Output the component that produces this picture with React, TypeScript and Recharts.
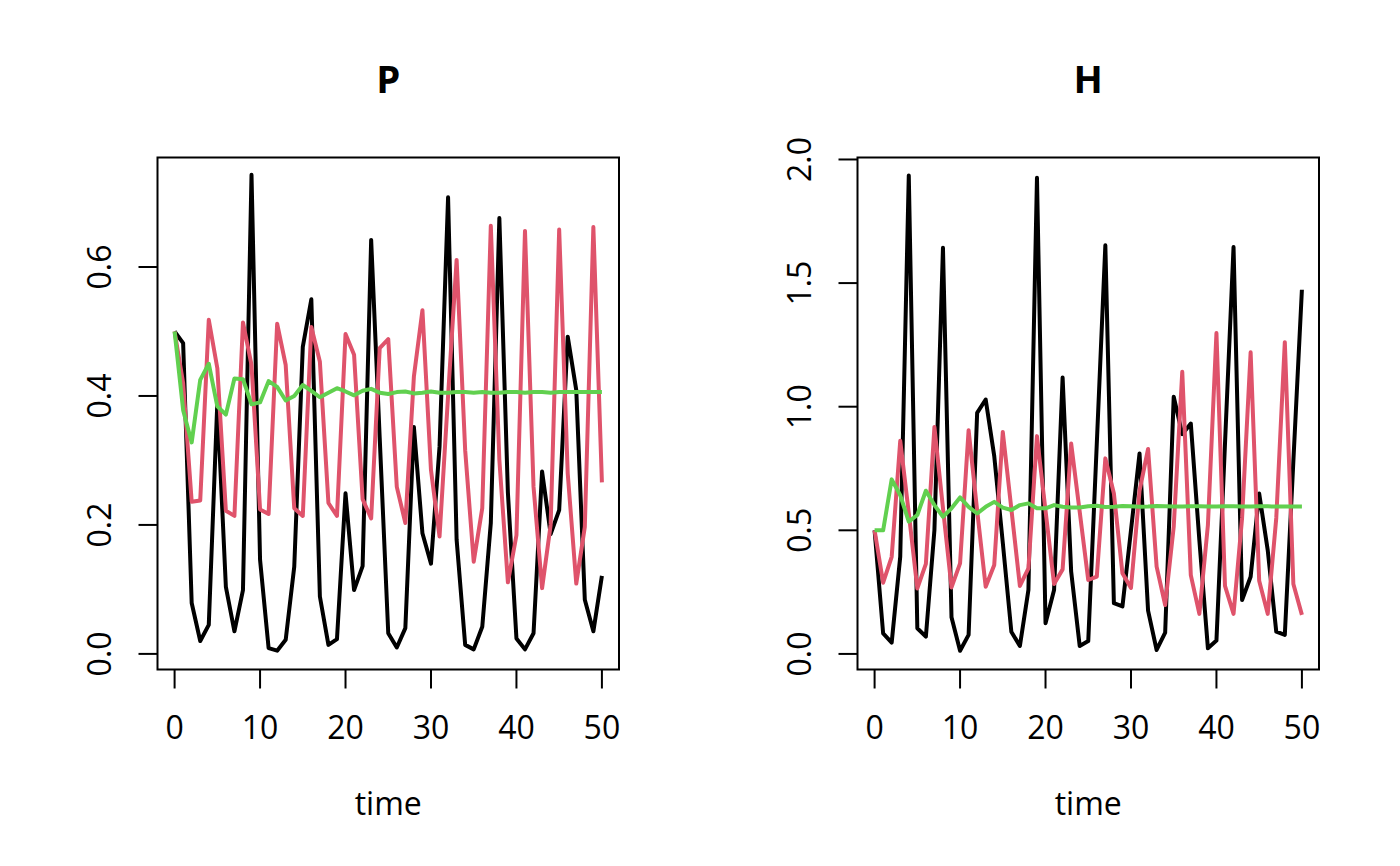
import { Line, LineChart, ReferenceArea, XAxis, YAxis } from 'recharts';

const FONT = '"Open Sans", "Noto Sans", sans-serif';

const time = [
  0, 1, 2, 3, 4, 5, 6, 7, 8, 9, 10, 11, 12, 13, 14, 15, 16, 17, 18, 19, 20, 21, 22, 23, 24, 25,
  26, 27, 28, 29, 30, 31, 32, 33, 34, 35, 36, 37, 38, 39, 40, 41, 42, 43, 44, 45, 46, 47, 48, 49, 50,
];
const timeTicks = [0, 10, 20, 30, 40, 50];

// P panel
const pBlack = [
  0.5, 0.482, 0.079, 0.02, 0.045, 0.39, 0.104, 0.035, 0.099, 0.743, 0.146, 0.009, 0.005, 0.022,
  0.135, 0.476, 0.55, 0.089, 0.014, 0.023, 0.249, 0.099, 0.136, 0.642, 0.335, 0.032, 0.01, 0.04,
  0.352, 0.187, 0.14, 0.321, 0.708, 0.177, 0.014, 0.007, 0.042, 0.203, 0.676, 0.25, 0.024, 0.007,
  0.032, 0.283, 0.186, 0.223, 0.492, 0.409, 0.084, 0.035, 0.121,
];
const pRed = [
  0.5, 0.42, 0.236, 0.238, 0.518, 0.443, 0.222, 0.214, 0.514, 0.448, 0.224, 0.217, 0.512, 0.448,
  0.226, 0.214, 0.507, 0.453, 0.234, 0.214, 0.496, 0.464, 0.24, 0.21, 0.474, 0.488, 0.259, 0.203,
  0.43, 0.533, 0.285, 0.182, 0.4, 0.611, 0.316, 0.143, 0.226, 0.664, 0.301, 0.111, 0.184, 0.656,
  0.259, 0.102, 0.2, 0.658, 0.28, 0.109, 0.197, 0.662, 0.266,
];
const pGreen = [
  0.5, 0.378, 0.328, 0.425, 0.45, 0.384, 0.371, 0.427, 0.426, 0.387, 0.39, 0.423, 0.414, 0.393,
  0.4, 0.417, 0.408, 0.398, 0.405, 0.412, 0.407, 0.401, 0.408, 0.411, 0.405, 0.403, 0.406, 0.407,
  0.404, 0.405, 0.407, 0.405, 0.405, 0.406, 0.406, 0.405, 0.406, 0.405, 0.405, 0.406, 0.406, 0.405,
  0.406, 0.406, 0.405, 0.406, 0.406, 0.406, 0.406, 0.406, 0.406,
];
const pTicks = [0, 0.2, 0.4, 0.6];
const pTickLabels = ['0.0', '0.2', '0.4', '0.6'];

// H panel
const hBlack = [
  0.5, 0.083, 0.046, 0.393, 1.935, 0.104, 0.07, 0.501, 1.643, 0.148, 0.013, 0.077, 0.975, 1.029,
  0.8, 0.45, 0.09, 0.032, 0.259, 1.926, 0.124, 0.259, 1.118, 0.333, 0.032, 0.052, 0.851, 1.653,
  0.205, 0.192, 0.5, 0.811, 0.175, 0.016, 0.086, 1.04, 0.889, 0.932, 0.46, 0.023, 0.054, 0.85,
  1.646, 0.218, 0.312, 0.649, 0.42, 0.09, 0.077, 0.78, 1.473,
];
const hRed = [
  0.5, 0.288, 0.393, 0.862, 0.57, 0.265, 0.364, 0.918, 0.59, 0.269, 0.366, 0.905, 0.58, 0.272,
  0.36, 0.898, 0.587, 0.275, 0.346, 0.881, 0.58, 0.283, 0.342, 0.851, 0.575, 0.299, 0.313, 0.791,
  0.649, 0.326, 0.267, 0.66, 0.829, 0.353, 0.198, 0.514, 1.141, 0.319, 0.162, 0.521, 1.298, 0.275,
  0.162, 0.55, 1.22, 0.296, 0.162, 0.55, 1.261, 0.283, 0.158,
];
const hGreen = [
  0.5, 0.5, 0.706, 0.642, 0.535, 0.562, 0.66, 0.602, 0.555, 0.589, 0.633, 0.595, 0.568, 0.595,
  0.615, 0.592, 0.582, 0.602, 0.609, 0.589, 0.589, 0.602, 0.595, 0.592, 0.592, 0.597, 0.599, 0.594,
  0.595, 0.598, 0.597, 0.595, 0.596, 0.598, 0.597, 0.596, 0.596, 0.597, 0.597, 0.596, 0.596, 0.597,
  0.597, 0.596, 0.596, 0.597, 0.597, 0.596, 0.596, 0.596, 0.596,
];
const hTicks = [0, 0.5, 1, 1.5, 2];
const hTickLabels = ['0.0', '0.5', '1.0', '1.5', '2.0'];

const COLORS = { black: '#000000', red: '#DF536B', green: '#61D04F' };

// plot box (the R plot region) inside each 700px-wide panel
const PANEL_W = 700;
const PANEL_H = 866;
const BOX_LEFT = 157.5;
const BOX_RIGHT = 619;
const BOX_TOP = 157.5;
const BOX_BOTTOM = 669.5;
const Y_AXIS_W = 100;
const X_AXIS_H = 100;
const TICK_LEN = 19;

interface PanelProps {
  title: string;
  black: number[];
  red: number[];
  green: number[];
  yDomain: [number, number];
  yTicks: number[];
  yTickLabels: string[];
}

function XTick({ x, y, payload }: any) {
  return (
    <text x={x} y={y} textAnchor="middle" fontFamily={FONT} fontSize={32} fill="#000">
      {payload.value}
    </text>
  );
}

function makeYTick(ticks: number[], labels: string[]) {
  return function YTick({ x, y, payload }: any) {
    const i = ticks.indexOf(payload.value);
    return (
      <text
        x={x}
        y={y}
        transform={`rotate(-90 ${x} ${y})`}
        textAnchor="middle"
        fontFamily={FONT}
        fontSize={32}
        fill="#000"
      >
        {i >= 0 ? labels[i] : payload.value}
      </text>
    );
  };
}

function Panel({ title, black, red, green, yDomain, yTicks, yTickLabels }: PanelProps) {
  const data = time.map((t, i) => ({ t, black: black[i], red: red[i], green: green[i] }));
  const YTick = makeYTick(yTicks, yTickLabels);

  return (
    <div style={{ position: 'relative', width: PANEL_W, height: PANEL_H }}>
      <LineChart
        width={PANEL_W}
        height={PANEL_H}
        data={data}
        margin={{
          top: BOX_TOP,
          right: PANEL_W - BOX_RIGHT,
          bottom: PANEL_H - BOX_BOTTOM - X_AXIS_H,
          left: BOX_LEFT - Y_AXIS_W,
        }}
      >
        <XAxis
          dataKey="t"
          type="number"
          domain={[-2, 52]}
          allowDataOverflow
          ticks={timeTicks}
          height={X_AXIS_H}
          axisLine={false}
          tickLine={{ stroke: '#000', strokeWidth: 2 }}
          tickSize={TICK_LEN}
          tickMargin={50.5}
          tick={<XTick />}
          interval={0}
        />
        <YAxis
          type="number"
          domain={yDomain}
          allowDataOverflow
          ticks={yTicks}
          width={Y_AXIS_W}
          axisLine={false}
          tickLine={{ stroke: '#000', strokeWidth: 2 }}
          tickSize={TICK_LEN}
          tickMargin={27}
          tick={<YTick />}
          interval={0}
        />
        <ReferenceArea
          x1={-2}
          x2={52}
          y1={yDomain[0]}
          y2={yDomain[1]}
          fill="none"
          stroke="#000"
          strokeWidth={2}
          ifOverflow="visible"
        />
        <Line
          type="linear"
          dataKey="black"
          stroke={COLORS.black}
          strokeWidth={4}
          dot={false}
          strokeLinejoin="round"
          isAnimationActive={false}
        />
        <Line
          type="linear"
          dataKey="red"
          stroke={COLORS.red}
          strokeWidth={4}
          dot={false}
          strokeLinejoin="round"
          isAnimationActive={false}
        />
        <Line
          type="linear"
          dataKey="green"
          stroke={COLORS.green}
          strokeWidth={4}
          dot={false}
          strokeLinejoin="round"
          isAnimationActive={false}
        />
      </LineChart>
      <svg
        width={PANEL_W}
        height={PANEL_H}
        style={{ position: 'absolute', left: 0, top: 0, pointerEvents: 'none' }}
      >
        <text
          x={(BOX_LEFT + BOX_RIGHT) / 2}
          y={93}
          textAnchor="middle"
          fontFamily={FONT}
          fontWeight="bold"
          fontSize={38.4}
          fill="#000"
        >
          {title}
        </text>
        <text
          x={(BOX_LEFT + BOX_RIGHT) / 2}
          y={815}
          textAnchor="middle"
          fontFamily={FONT}
          fontSize={32}
          fill="#000"
        >
          time
        </text>
      </svg>
    </div>
  );
}

export default function App() {
  return (
    <div
      style={{
        position: 'absolute',
        left: 0,
        top: 0,
        width: 1400,
        height: 866,
        background: '#fff',
        display: 'flex',
      }}
    >
      <Panel
        title="P"
        black={pBlack}
        red={pRed}
        green={pGreen}
        yDomain={[-0.0242, 0.7698]}
        yTicks={pTicks}
        yTickLabels={pTickLabels}
      />
      <Panel
        title="H"
        black={hBlack}
        red={hRed}
        green={hGreen}
        yDomain={[-0.063, 2.008]}
        yTicks={hTicks}
        yTickLabels={hTickLabels}
      />
    </div>
  );
}
